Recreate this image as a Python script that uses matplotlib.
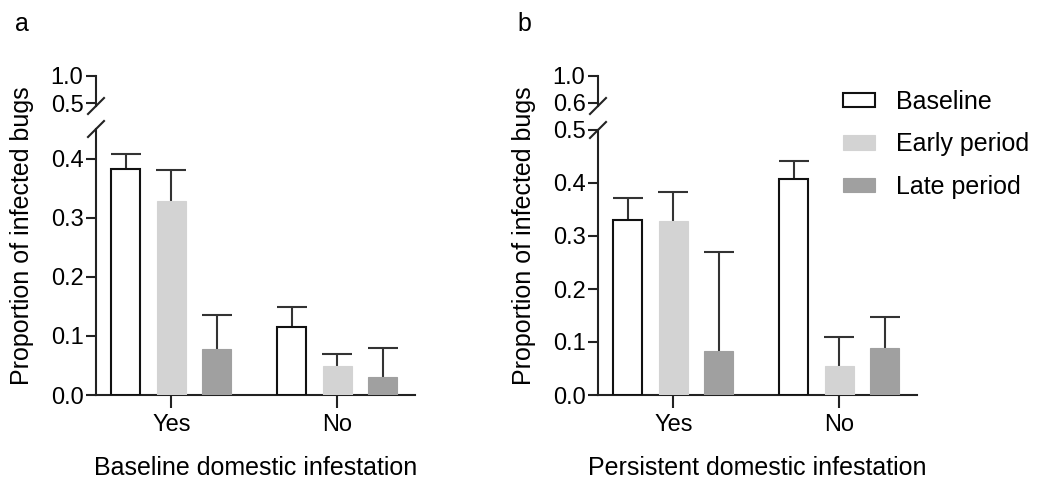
import numpy as np
import matplotlib
matplotlib.use("Agg")
import matplotlib.pyplot as plt

plt.rcParams['font.family'] = ['Liberation Sans', 'DejaVu Sans']

categories = ["Yes", "No"]
series = ["Baseline", "Early period", "Late period"]

# Panel a: Baseline domestic infestation
a_means = {"Baseline": [0.383, 0.115], "Early period": [0.329, 0.049], "Late period": [0.077, 0.030]}
a_upper = {"Baseline": [0.408, 0.149], "Early period": [0.381, 0.070], "Late period": [0.136, 0.080]}
# Panel b: Persistent domestic infestation
b_means = {"Baseline": [0.330, 0.408], "Early period": [0.328, 0.054], "Late period": [0.083, 0.089]}
b_upper = {"Baseline": [0.372, 0.441], "Early period": [0.383, 0.110], "Late period": [0.270, 0.148]}

colors = {"Baseline": "white", "Early period": "#d3d3d3", "Late period": "#a0a0a0"}
edges = {"Baseline": "#111111", "Early period": "#d3d3d3", "Late period": "#a0a0a0"}

W, H = 1037, 482
fig = plt.figure(figsize=(W / 100, H / 100), dpi=100)

def px_rect(left, right, top, bottom):
    return [left / W, (H - bottom) / H, (right - left) / W, (bottom - top) / H]

LW = 1.5
EC = "#222222"
FS = 18
TFS = 17

def draw_panel(left, right, lower_top, means, upper, low_lim, low_ticks, up_lim, up_ticks, xlabel, letter, ylab_x):
    axl = fig.add_axes(px_rect(left, right, lower_top, 395))
    axu = fig.add_axes(px_rect(left, right, 76, 106))
    x = np.arange(len(categories))
    offs = [-0.274, 0.0, 0.274]
    width = 0.175
    for s, off in zip(series, offs):
        m = np.array(means[s])
        up = np.array(upper[s]) - m
        axl.bar(x + off, m, width, color=colors[s], edgecolor=edges[s],
                linewidth=LW if s == "Baseline" else 0.8, zorder=3, label=s)
        eb = axl.errorbar(x + off, m, yerr=[np.zeros_like(m), up], fmt="none",
                          ecolor="#333333", elinewidth=LW, capsize=11, capthick=LW, zorder=2)
        for cl in eb.lines[1]:
            if np.allclose(cl.get_ydata(), m):
                cl.set_visible(False)
    axl.set_xlim(-0.454, 1.47)
    axl.set_ylim(*low_lim)
    axl.set_yticks(low_ticks)
    axl.set_yticklabels([f"{t:.1f}" for t in low_ticks])
    axl.set_xticks(x)
    axl.set_xticklabels(categories)
    for sp in ["top", "right"]:
        axl.spines[sp].set_visible(False)
    for sp in ["left", "bottom"]:
        axl.spines[sp].set_linewidth(LW)
        axl.spines[sp].set_color(EC)
    axl.tick_params(axis="y", length=7, width=LW, color=EC, labelsize=TFS, pad=2)
    axl.tick_params(axis="x", length=9, width=LW, color=EC, labelsize=TFS, pad=5)

    axu.set_xlim(-0.454, 1.47)
    axu.set_ylim(*up_lim)
    axu.set_yticks(up_ticks)
    axu.set_yticklabels([f"{t:.1f}" for t in up_ticks])
    axu.set_xticks([])
    for sp in ["top", "right", "bottom"]:
        axu.spines[sp].set_visible(False)
    axu.spines["left"].set_linewidth(LW)
    axu.spines["left"].set_color(EC)
    axu.tick_params(axis="y", length=7, width=LW, color=EC, labelsize=TFS, pad=2)
    axu.patch.set_alpha(0)

    # break marks
    kw = dict(color=EC, linewidth=LW, clip_on=False)
    for ax, yy in [(axu, 0.0), (axl, 1.0)]:
        xs = np.array([-8, 8]) / (right - left)
        ys = np.array([-8, 8]) / (ax.get_position().height * H)
        ax.plot(xs, yy + ys, transform=ax.transAxes, **kw)

    fig.text(ylab_x / W, (H - 236) / H, "Proportion of infected bugs", rotation=90,
             ha="center", va="center", fontsize=FS)
    fig.text((left - 81) / W, (H - 24) / H, letter, fontsize=FS, ha="left", va="center")
    fig.text((left + right) / 2 / W, (H - 468) / H, xlabel, fontsize=FS, ha="center", va="center")
    return axl

axa = draw_panel(96, 415, 129, a_means, a_upper, (0, 0.45), [0.0, 0.1, 0.2, 0.3, 0.4],
                 (0.45, 1.0), [0.5, 1.0], "Baseline domestic infestation", "a", 22)
axb = draw_panel(598, 917, 130, b_means, b_upper, (0, 0.5), [0.0, 0.1, 0.2, 0.3, 0.4, 0.5],
                 (0.55, 1.0), [0.6, 1.0], "Persistent domestic infestation", "b", 524)

handles, labels = axb.get_legend_handles_labels()
fig.legend(handles, labels, loc="upper left", bbox_to_anchor=(843 / W, (H - 90) / H),
           frameon=False, fontsize=FS, handlelength=1.28, handleheight=0.52,
           labelspacing=0.74, handletextpad=0.84, borderpad=0, borderaxespad=0)

fig.savefig("out.png", dpi=100)
